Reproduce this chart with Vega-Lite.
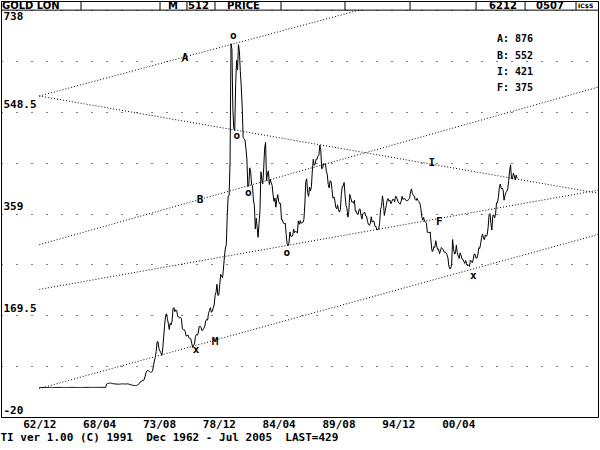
{
  "$schema": "https://vega.github.io/schema/vega-lite/v6.json",
  "width": 597,
  "height": 416,
  "autosize": {"type": "none"},
  "padding": {"left": 1, "top": 1, "right": 2, "bottom": 33},
  "background": "white",
  "config": {
    "view": {"stroke": "black", "strokeWidth": 1},
    "font": "DejaVu Sans Mono"
  },
  "title": {
    "text": "TI ver 1.00 (C) 1991\u00a0 Dec 1962 - Jul 2005\u00a0 LAST=429",
    "orient": "bottom", "anchor": "start", "font": "DejaVu Sans Mono",
    "fontSize": 11, "fontWeight": "bold", "color": "black", "offset": 3
  },
  "datasets": {
    "price": [
      {"m":0,"v":35.1},{"m":1,"v":35.1},{"m":2,"v":35.1},{"m":3,"v":35.1},{"m":4,"v":35.1},{"m":5,"v":35.1},{"m":6,"v":35.1},{"m":7,"v":35.1},{"m":8,"v":35.1},{"m":9,"v":35.1},{"m":10,"v":35.1},{"m":11,"v":35.1},{"m":12,"v":35.1},
      {"m":13,"v":35.1},{"m":14,"v":35.1},{"m":15,"v":35.1},{"m":16,"v":35.1},{"m":17,"v":35.1},{"m":18,"v":35.1},{"m":19,"v":35.1},{"m":20,"v":35.1},{"m":21,"v":35.1},{"m":22,"v":35.1},{"m":23,"v":35.1},{"m":24,"v":35.1},
      {"m":25,"v":35.1},{"m":26,"v":35.1},{"m":27,"v":35.1},{"m":28,"v":35.1},{"m":29,"v":35.1},{"m":30,"v":35.1},{"m":31,"v":35.1},{"m":32,"v":35.1},{"m":33,"v":35.1},{"m":34,"v":35.1},{"m":35,"v":35.1},{"m":36,"v":35.1},
      {"m":37,"v":35.1},{"m":38,"v":35.1},{"m":39,"v":35.1},{"m":40,"v":35.1},{"m":41,"v":35.1},{"m":42,"v":35.1},{"m":43,"v":35.1},{"m":44,"v":35.1},{"m":45,"v":35.1},{"m":46,"v":35.1},{"m":47,"v":35.1},{"m":48,"v":35.1},
      {"m":49,"v":35.2},{"m":50,"v":35.2},{"m":51,"v":35.2},{"m":52,"v":35.2},{"m":53,"v":35.2},{"m":54,"v":35.2},{"m":55,"v":35.2},{"m":56,"v":35.2},{"m":57,"v":35.2},{"m":58,"v":35.2},{"m":59,"v":35.2},{"m":60,"v":35.2},
      {"m":61,"v":35.2},{"m":62,"v":35.2},{"m":63,"v":35.2},{"m":64,"v":35.2},{"m":65,"v":35.2},{"m":66,"v":35.2},{"m":67,"v":35.2},{"m":68,"v":35.2},{"m":69,"v":35.2},{"m":70,"v":35.2},{"m":71,"v":35.2},{"m":72,"v":41.5},
      {"m":73,"v":42.3},{"m":74,"v":42.6},{"m":75,"v":43.0},{"m":76,"v":43.2},{"m":77,"v":43.0},{"m":78,"v":42.4},{"m":79,"v":42.0},{"m":80,"v":41.8},{"m":81,"v":41.6},{"m":82,"v":41.5},{"m":83,"v":41.3},{"m":84,"v":41.2},
      {"m":85,"v":41.2},{"m":86,"v":41.3},{"m":87,"v":41.5},{"m":88,"v":41.6},{"m":89,"v":41.8},{"m":90,"v":41.6},{"m":91,"v":41.5},{"m":92,"v":41.4},{"m":93,"v":41.6},{"m":94,"v":41.8},{"m":95,"v":41.5},{"m":96,"v":41.2},
      {"m":97,"v":40.6},{"m":98,"v":40.0},{"m":99,"v":39.5},{"m":100,"v":39.0},{"m":101,"v":38.8},{"m":102,"v":38.6},{"m":103,"v":38.8},{"m":104,"v":39.0},{"m":105,"v":39.6},{"m":106,"v":40.5},{"m":107,"v":42.9},{"m":108,"v":45.5},
      {"m":109,"v":45.7},{"m":110,"v":48.3},{"m":111,"v":48.3},{"m":112,"v":49.0},{"m":113,"v":54.6},{"m":114,"v":62.1},{"m":115,"v":65.7},{"m":116,"v":67.0},{"m":117,"v":65.5},{"m":118,"v":64.9},{"m":119,"v":62.9},{"m":120,"v":63.9},
      {"m":121,"v":65.1},{"m":122,"v":74.2},{"m":123,"v":84.4},{"m":124,"v":90.5},{"m":125,"v":102.0},{"m":126,"v":120.1},{"m":127,"v":120.2},{"m":128,"v":106.8},{"m":129,"v":103.0},{"m":130,"v":100.1},{"m":131,"v":94.8},{"m":132,"v":106.7},
      {"m":133,"v":129.2},{"m":134,"v":150.2},{"m":135,"v":168.4},{"m":136,"v":172.2},{"m":137,"v":163.3},{"m":138,"v":154.1},{"m":139,"v":143.0},{"m":140,"v":154.6},{"m":141,"v":151.8},{"m":142,"v":158.8},{"m":143,"v":181.7},{"m":144,"v":183.8},
      {"m":145,"v":176.3},{"m":146,"v":179.6},{"m":147,"v":178.2},{"m":148,"v":167.2},{"m":149,"v":167.0},{"m":150,"v":164.2},{"m":151,"v":165.2},{"m":152,"v":163.0},{"m":153,"v":144.1},{"m":154,"v":142.7},{"m":155,"v":142.8},{"m":156,"v":139.3},
      {"m":157,"v":131.1},{"m":158,"v":131.1},{"m":159,"v":132.6},{"m":160,"v":127.6},{"m":161,"v":126.4},{"m":162,"v":125.8},{"m":163,"v":117.8},{"m":164,"v":109.3},{"m":165,"v":114.0},{"m":166,"v":116.0},{"m":167,"v":130.3},{"m":168,"v":133.8},
      {"m":169,"v":132.3},{"m":170,"v":136.2},{"m":171,"v":148.2},{"m":172,"v":149.2},{"m":173,"v":146.6},{"m":174,"v":140.8},{"m":175,"v":143.4},{"m":176,"v":144.8},{"m":177,"v":149.3},{"m":178,"v":158.5},{"m":179,"v":161.9},{"m":180,"v":160.5},
      {"m":181,"v":173.2},{"m":182,"v":178.2},{"m":183,"v":183.7},{"m":184,"v":175.3},{"m":185,"v":176.6},{"m":186,"v":183.2},{"m":187,"v":188.6},{"m":188,"v":206.1},{"m":189,"v":212.5},{"m":190,"v":227.3},{"m":191,"v":206.1},{"m":192,"v":207.8},
      {"m":193,"v":227.3},{"m":194,"v":245.7},{"m":195,"v":242.1},{"m":196,"v":239.2},{"m":197,"v":257.6},{"m":198,"v":279.1},{"m":199,"v":294.7},{"m":200,"v":300.8},{"m":201,"v":355.1},{"m":202,"v":391.7},{"m":203,"v":392.5},{"m":204,"v":455.1},
      {"m":205,"v":675.3},{"m":206,"v":665.3},{"m":207,"v":553.6},{"m":208,"v":517.4},{"m":209,"v":513.8},{"m":210,"v":600.7},{"m":211,"v":644.3},{"m":212,"v":626.5},{"m":213,"v":673.6},{"m":214,"v":661.2},{"m":215,"v":623.5},{"m":216,"v":594.9},
      {"m":217,"v":557.4},{"m":218,"v":500.5},{"m":219,"v":498.8},{"m":220,"v":495.8},{"m":221,"v":479.7},{"m":222,"v":460.8},{"m":223,"v":409.3},{"m":224,"v":410.6},{"m":225,"v":444.2},{"m":226,"v":437.8},{"m":227,"v":413.4},{"m":228,"v":410.1},
      {"m":229,"v":384.4},{"m":230,"v":374.2},{"m":231,"v":330.2},{"m":232,"v":350.4},{"m":233,"v":333.8},{"m":234,"v":314.8},{"m":235,"v":340.0},{"m":236,"v":364.5},{"m":237,"v":436.9},{"m":238,"v":422.7},{"m":239,"v":414.6},{"m":240,"v":444.1},
      {"m":241,"v":480.8},{"m":242,"v":491.6},{"m":243,"v":420.6},{"m":244,"v":432.4},{"m":245,"v":438.6},{"m":246,"v":413.0},{"m":247,"v":422.7},{"m":248,"v":416.2},{"m":249,"v":411.5},{"m":250,"v":393.6},{"m":251,"v":381.6},{"m":252,"v":388.0},
      {"m":253,"v":370.9},{"m":254,"v":385.5},{"m":255,"v":394.2},{"m":256,"v":381.4},{"m":257,"v":377.2},{"m":258,"v":377.8},{"m":259,"v":347.7},{"m":260,"v":347.7},{"m":261,"v":341.1},{"m":262,"v":340.2},{"m":263,"v":341.2},{"m":264,"v":320.2},
      {"m":265,"v":302.7},{"m":266,"v":299.1},{"m":267,"v":304.0},{"m":268,"v":324.8},{"m":269,"v":316.5},{"m":270,"v":316.8},{"m":271,"v":317.4},{"m":272,"v":330.1},{"m":273,"v":323.5},{"m":274,"v":325.7},{"m":275,"v":325.3},{"m":276,"v":322.7},
      {"m":277,"v":345.4},{"m":278,"v":338.9},{"m":279,"v":345.7},{"m":280,"v":340.4},{"m":281,"v":342.6},{"m":282,"v":342.6},{"m":283,"v":348.6},{"m":284,"v":376.8},{"m":285,"v":418.5},{"m":286,"v":423.6},{"m":287,"v":398.1},{"m":288,"v":391.0},
      {"m":289,"v":408.3},{"m":290,"v":401.1},{"m":291,"v":408.9},{"m":292,"v":438.4},{"m":293,"v":460.2},{"m":294,"v":449.1},{"m":295,"v":450.7},{"m":296,"v":460.4},{"m":297,"v":460.2},{"m":298,"v":465.9},{"m":299,"v":467.6},{"m":300,"v":486.3},
      {"m":301,"v":477.8},{"m":302,"v":442.3},{"m":303,"v":443.6},{"m":304,"v":452.1},{"m":305,"v":451.1},{"m":306,"v":451.7},{"m":307,"v":437.6},{"m":308,"v":431.4},{"m":309,"v":413.4},{"m":310,"v":406.8},{"m":311,"v":420.0},{"m":312,"v":418.9},
      {"m":313,"v":404.2},{"m":314,"v":387.8},{"m":315,"v":390.2},{"m":316,"v":384.2},{"m":317,"v":371.2},{"m":318,"v":367.6},{"m":319,"v":375.1},{"m":320,"v":365.4},{"m":321,"v":361.8},{"m":322,"v":366.9},{"m":323,"v":394.3},{"m":324,"v":409.4},
      {"m":325,"v":410.1},{"m":326,"v":416.9},{"m":327,"v":393.1},{"m":328,"v":374.3},{"m":329,"v":369.0},{"m":330,"v":352.3},{"m":331,"v":362.5},{"m":332,"v":394.7},{"m":333,"v":389.3},{"m":334,"v":380.8},{"m":335,"v":381.2},{"m":336,"v":378.2},
      {"m":337,"v":383.6},{"m":338,"v":363.3},{"m":339,"v":363.5},{"m":340,"v":358.0},{"m":341,"v":357.1},{"m":342,"v":366.7},{"m":343,"v":367.7},{"m":344,"v":356.1},{"m":345,"v":348.7},{"m":346,"v":358.7},{"m":347,"v":359.7},{"m":348,"v":361.7},
      {"m":349,"v":354.5},{"m":350,"v":353.9},{"m":351,"v":344.3},{"m":352,"v":338.6},{"m":353,"v":337.2},{"m":354,"v":340.8},{"m":355,"v":353.1},{"m":356,"v":342.9},{"m":357,"v":345.4},{"m":358,"v":344.4},{"m":359,"v":335.0},{"m":360,"v":334.8},
      {"m":361,"v":329.0},{"m":362,"v":329.3},{"m":363,"v":330.0},{"m":364,"v":342.2},{"m":365,"v":367.1},{"m":366,"v":371.9},{"m":367,"v":392.0},{"m":368,"v":379.8},{"m":369,"v":355.5},{"m":370,"v":364.2},{"m":371,"v":373.8},{"m":372,"v":383.3},
      {"m":373,"v":386.9},{"m":374,"v":381.9},{"m":375,"v":384.1},{"m":376,"v":377.3},{"m":377,"v":381.4},{"m":378,"v":385.6},{"m":379,"v":385.5},{"m":380,"v":380.4},{"m":381,"v":391.6},{"m":382,"v":389.8},{"m":383,"v":384.4},{"m":384,"v":379.5},
      {"m":385,"v":378.6},{"m":386,"v":376.5},{"m":387,"v":382.1},{"m":388,"v":391.0},{"m":389,"v":385.2},{"m":390,"v":387.6},{"m":391,"v":386.2},{"m":392,"v":383.8},{"m":393,"v":383.0},{"m":394,"v":383.1},{"m":395,"v":385.9},{"m":396,"v":387.4},
      {"m":397,"v":399.5},{"m":398,"v":404.8},{"m":399,"v":396.2},{"m":400,"v":392.9},{"m":401,"v":392.0},{"m":402,"v":385.3},{"m":403,"v":383.5},{"m":404,"v":387.5},{"m":405,"v":383.1},{"m":406,"v":381.1},{"m":407,"v":377.9},{"m":408,"v":369.0},
      {"m":409,"v":354.1},{"m":410,"v":346.6},{"m":411,"v":351.8},{"m":412,"v":344.5},{"m":413,"v":343.8},{"m":414,"v":340.8},{"m":415,"v":324.1},{"m":416,"v":324.0},{"m":417,"v":322.8},{"m":418,"v":324.9},{"m":419,"v":306.0},{"m":420,"v":288.7},
      {"m":421,"v":289.1},{"m":422,"v":297.5},{"m":423,"v":295.9},{"m":424,"v":308.4},{"m":425,"v":299.1},{"m":426,"v":292.3},{"m":427,"v":292.9},{"m":428,"v":284.1},{"m":429,"v":289.0},{"m":430,"v":295.9},{"m":431,"v":294.1},{"m":432,"v":291.6},
      {"m":433,"v":287.1},{"m":434,"v":287.3},{"m":435,"v":286.0},{"m":436,"v":282.6},{"m":437,"v":276.4},{"m":438,"v":261.3},{"m":439,"v":256.1},{"m":440,"v":256.7},{"m":441,"v":264.7},{"m":442,"v":310.7},{"m":443,"v":293.2},{"m":444,"v":283.7},
      {"m":445,"v":284.6},{"m":446,"v":300.0},{"m":447,"v":286.4},{"m":448,"v":279.7},{"m":449,"v":275.3},{"m":450,"v":285.7},{"m":451,"v":281.6},{"m":452,"v":274.5},{"m":453,"v":273.7},{"m":454,"v":270.0},{"m":455,"v":266.0},{"m":456,"v":271.5},
      {"m":457,"v":265.5},{"m":458,"v":261.9},{"m":459,"v":263.0},{"m":460,"v":260.5},{"m":461,"v":272.4},{"m":462,"v":270.2},{"m":463,"v":267.5},{"m":464,"v":272.4},{"m":465,"v":283.4},{"m":466,"v":283.1},{"m":467,"v":276.2},{"m":468,"v":275.9},
      {"m":469,"v":281.7},{"m":470,"v":295.5},{"m":471,"v":294.0},{"m":472,"v":302.7},{"m":473,"v":314.5},{"m":474,"v":321.2},{"m":475,"v":313.3},{"m":476,"v":310.3},{"m":477,"v":319.2},{"m":478,"v":316.6},{"m":479,"v":319.2},{"m":480,"v":333.4},
      {"m":481,"v":356.9},{"m":482,"v":359.0},{"m":483,"v":340.6},{"m":484,"v":328.2},{"m":485,"v":355.7},{"m":486,"v":356.4},{"m":487,"v":351.0},{"m":488,"v":359.8},{"m":489,"v":378.9},{"m":490,"v":378.9},{"m":491,"v":389.9},{"m":492,"v":407.6},
      {"m":493,"v":414.0},{"m":494,"v":405.3},{"m":495,"v":406.7},{"m":496,"v":403.0},{"m":497,"v":383.8},{"m":498,"v":392.4},{"m":499,"v":398.1},{"m":500,"v":400.5},{"m":501,"v":405.3},{"m":502,"v":420.5},{"m":503,"v":439.4},{"m":504,"v":450.0},
      {"m":505,"v":424.0},{"m":506,"v":423.4},{"m":507,"v":434.2},{"m":508,"v":429.2},{"m":509,"v":421.9},{"m":510,"v":430.7},{"m":511,"v":424.5}
    ],
    "trend": [
      {"k":"A","m":0,"v":578},{"k":"A","m":342.1,"v":738},
      {"k":"I","m":0,"v":578},{"k":"I","m":597.5,"v":397},
      {"k":"B","m":0,"v":301},{"k":"B","m":597.5,"v":594.5},
      {"k":"F","m":0,"v":217.7},{"k":"F","m":597.5,"v":402.5},
      {"k":"X","m":0,"v":33},{"k":"X","m":597.5,"v":320}
    ],
    "marks": [
      {"t":"o","m":207.5,"v":689.7},{"t":"o","m":211.1,"v":503.5},{"t":"o","m":223.5,"v":396.7},{"t":"o","m":264.6,"v":285},
      {"t":"x","m":167.6,"v":104.7},{"t":"x","m":464.2,"v":242.6},{"t":"M","m":187.9,"v":120.2},
      {"t":"A","m":155.8,"v":648.2},{"t":"B","m":171.9,"v":384.2},{"t":"I","m":419.7,"v":453.7},{"t":"F","m":427.8,"v":343.8}
    ],
    "side": [
      {"t":"A: 876","m":489.5,"v":684},{"t":"B: 552","m":489.5,"v":652.5},
      {"t":"I: 421","m":489.5,"v":622.5},{"t":"F: 375","m":489.5,"v":592.5}
    ],
    "hdiv": [
      {"m":44.6},{"m":129.1},{"m":157.9},{"m":187.9},{"m":258.5},{"m":326.9},{"m":396.5},{"m":467.1},{"m":519.5},{"m":574.0}
    ],
    "htext": [
      {"t":"GOLD LON","m":-39.9,"v":746.5},{"t":"M","m":137.6,"v":746.5},{"t":"512","m":159.1,"v":746.5},
      {"t":"PRICE","m":200.7,"v":746.5},{"t":"6212","m":481.0,"v":746.5},{"t":"0507","m":531.3,"v":746.5}
    ],
    "hicon": [{"t":"IC$S","m":576.2,"v":746.5}],
    "hline": [{"v":738}]
  },
  "layer": [
    {
      "data": {"name": "price"},
      "mark": {"type": "line", "color": "black", "strokeWidth": 1},
      "encoding": {
        "x": {
          "field": "m", "type": "quantitative",
          "scale": {"domain": [-40.96, 597.5], "nice": false, "zero": false},
          "axis": {
            "values": [0, 64, 128, 192, 256, 320, 384, 448],
            "labelExpr": "['62/12','68/04','73/08','78/12','84/04','89/08','94/12','00/04'][round(datum.value/64)]",
            "ticks": false, "domain": false, "grid": false, "title": null,
            "labelFont": "DejaVu Sans Mono", "labelFontWeight": "bold", "labelFontSize": 11,
            "labelColor": "black", "labelPadding": 1, "labelAngle": 0, "labelOverlap": false
          }
        },
        "y": {
          "field": "v", "type": "quantitative",
          "scale": {"domain": [-20, 755], "nice": false, "zero": false},
          "axis": {
            "values": [738, 643.25, 548.5, 453.75, 359, 264.25, 169.5, 74.75, -20],
            "labelExpr": "datum.value==738?'738':datum.value==548.5?'548.5':datum.value==359?'359':datum.value==169.5?'169.5':datum.value==-20?'-20':''",
            "ticks": false, "tickSize": 0, "domain": false, "grid": true,
            "gridDash": [1, 14], "gridColor": "black", "gridOpacity": 1, "gridWidth": 1,
            "title": null, "labelAlign": "left", "labelPadding": -2,
            "labelOffset": {"condition": {"test": "datum.value==738", "value": 0}, "value": -2},
            "labelBaseline": {"condition": {"test": "datum.value==738", "value": "top"}, "value": "bottom"},
            "labelFont": "DejaVu Sans Mono", "labelFontWeight": "bold", "labelFontSize": 11,
            "labelColor": "black", "labelOverlap": false, "labelBound": false, "labelFlush": false
          }
        }
      }
    },
    {
      "data": {"name": "trend"},
      "mark": {"type": "line", "color": "black", "strokeWidth": 1, "strokeDash": [1, 2]},
      "encoding": {
        "x": {"field": "m", "type": "quantitative"},
        "y": {"field": "v", "type": "quantitative"},
        "detail": {"field": "k"}
      }
    },
    {
      "data": {"name": "marks"},
      "mark": {"type": "text", "font": "DejaVu Sans Mono", "fontWeight": "bold", "fontSize": 11, "color": "black"},
      "encoding": {
        "x": {"field": "m", "type": "quantitative"},
        "y": {"field": "v", "type": "quantitative"},
        "text": {"field": "t"}
      }
    },
    {
      "data": {"name": "side"},
      "mark": {"type": "text", "align": "left", "font": "DejaVu Sans Mono", "fontWeight": "bold", "fontSize": 10, "color": "black"},
      "encoding": {
        "x": {"field": "m", "type": "quantitative"},
        "y": {"field": "v", "type": "quantitative"},
        "text": {"field": "t"}
      }
    },
    {
      "data": {"name": "hline"},
      "mark": {"type": "rule", "color": "black", "strokeWidth": 1},
      "encoding": {"y": {"field": "v", "type": "quantitative"}}
    },
    {
      "data": {"name": "hdiv"},
      "mark": {"type": "rule", "color": "black", "strokeWidth": 1},
      "encoding": {
        "x": {"field": "m", "type": "quantitative"},
        "y": {"datum": 738, "type": "quantitative"},
        "y2": {"datum": 755}
      }
    },
    {
      "data": {"name": "htext"},
      "mark": {"type": "text", "align": "left", "baseline": "middle", "font": "DejaVu Sans", "fontWeight": "bold", "fontSize": 10, "color": "black"},
      "encoding": {
        "x": {"field": "m", "type": "quantitative"},
        "y": {"field": "v", "type": "quantitative"},
        "text": {"field": "t"}
      }
    },
    {
      "data": {"name": "hicon"},
      "mark": {"type": "text", "align": "left", "baseline": "middle", "font": "DejaVu Sans", "fontWeight": "bold", "fontSize": 6, "color": "black"},
      "encoding": {
        "x": {"field": "m", "type": "quantitative"},
        "y": {"field": "v", "type": "quantitative"},
        "text": {"field": "t"}
      }
    }
  ]
}
